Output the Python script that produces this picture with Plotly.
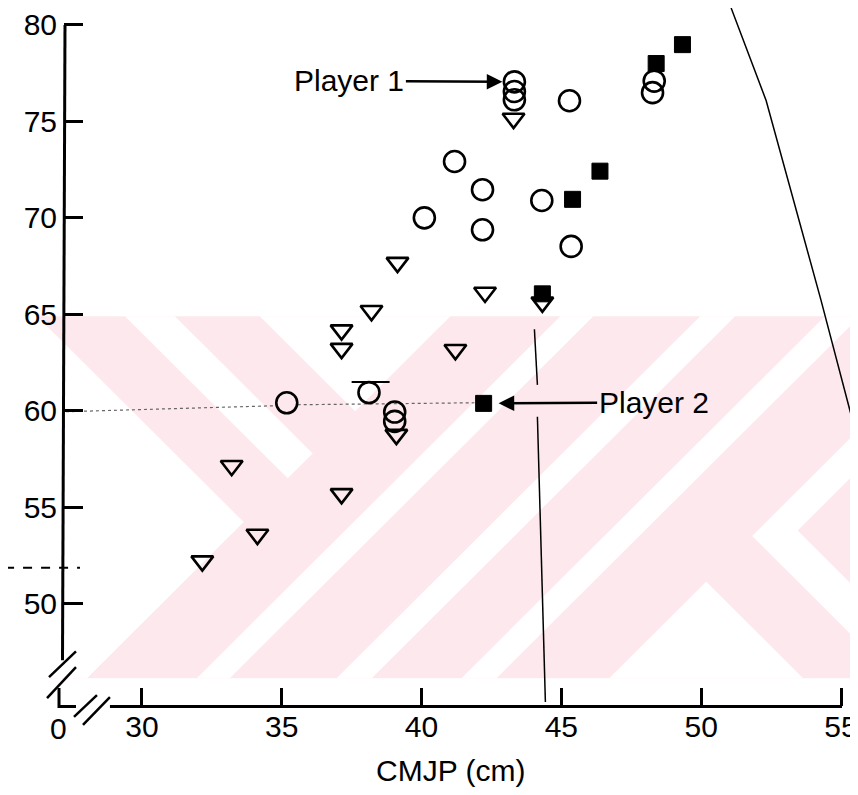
import plotly.graph_objects as go

# ---------------- data ----------------
circle_x = [43.32, 43.32, 43.32, 45.29, 41.18, 42.18, 44.30, 40.10, 42.18, 45.35,
            48.32, 48.26, 35.18, 38.12, 39.04, 39.04]
circle_y = [77.05, 76.55, 76.12, 76.07, 72.92, 71.46, 70.90, 70.00, 69.38, 68.52,
            77.09, 76.49, 60.41, 60.94, 59.93, 59.45]

tri_x = [43.29, 39.14, 42.27, 44.32, 38.21, 37.14, 37.14, 41.21, 39.10, 37.14,
         33.21, 34.13, 32.16]
tri_y = [75.15, 67.68, 66.13, 65.62, 65.18, 64.18, 63.22, 63.16, 58.76, 55.69,
         57.15, 53.58, 52.20]

sq_x = [49.33, 48.39, 46.38, 45.40, 44.32, 42.22]
sq_y = [78.98, 78.00, 72.42, 70.96, 66.06, 60.38]

x_ticks = [30, 35, 40, 45, 50, 55]
y_ticks = [50, 55, 60, 65, 70, 75, 80]
x_title = "CMJP (cm)"
players = ["Player 1", "Player 2"]

# ---------------- layout geometry (page pixels; body margin is 8px) ----------------
OFF = 8
PAGE_W, PAGE_H = 858, 795
W, H = PAGE_W - OFF, PAGE_H - OFF
PLOT_L, PLOT_T, PLOT_B = 64, 15, 706          # page pixels
ML, MT = PLOT_L - OFF, PLOT_T - OFF
MB = PAGE_H - PLOT_B
MR = 0
PW, PH = W - ML - MR, H - MT - MB
XPX, YPX = 28.0, 19.4          # pixels per unit
x0 = 30 - (142 - PLOT_L) / XPX
x1 = x0 + PW / XPX
y1 = 80 + (21 - PLOT_T) / YPX
y0 = y1 - PH / YPX

def px(x):
    return (x - PLOT_L) / PW

def py(y):
    return (PLOT_B - y) / PH

def path(pts, close=True):
    s = "M " + " L ".join(f"{px(a):.5f},{py(b):.5f}" for a, b in pts)
    return s + (" Z" if close else "")

FONT = "Liberation Sans, Arial, Helvetica, sans-serif"
FS = 30
PINK = "rgb(253,233,237)"

shapes = []
# watermark band
shapes.append(dict(type="path", xref="paper", yref="paper", layer="below",
                   path=path([(40, 314), (858, 314), (858, 678), (40, 678)]),
                   fillcolor=PINK, line=dict(width=0)))
white_polys = [
    [(40, 317), (244, 521), (87, 678), (40, 678)],
    [(125, 314), (175, 314), (313, 452), (288, 477)],
    [(260, 314), (451, 314), (355.5, 409.5)],
    [(561, 314), (594, 314), (230, 678), (197, 678)],
    [(701, 314), (736, 314), (372, 678), (337, 678)],
    [(826, 314), (858, 314), (858, 317), (497, 678), (462, 678)],
    [(707, 581), (610, 678), (804, 678)],
    [(858, 430), (753, 535), (858, 640), (858, 589), (798.5, 529.5), (858, 470)],
]
for poly in white_polys:
    shapes.append(dict(type="path", xref="paper", yref="paper", layer="below",
                       path=path(poly), fillcolor="white", line=dict(width=0)))

def seg(pts, width=3, color="black", dash="solid", layer="above"):
    shapes.append(dict(type="path", xref="paper", yref="paper", layer=layer,
                       path=path(pts, close=False),
                       line=dict(color=color, width=width, dash=dash)))

# axes with breaks
seg([(65, 21), (62.5, 660)], 3)
seg([(49, 677), (76, 651)], 2.5)
seg([(47, 698), (76, 667)], 2.5)
seg([(59, 688), (59, 706.5), (76, 706.5)], 3)
seg([(74, 717), (97, 695)], 2.5)
seg([(83, 725), (110, 697)], 2.5)
seg([(110, 706.5), (843, 706.5)], 3)

# scan artefacts
seg([(66, 410), (275, 404)], 1.2, "#666", "dot", "below")
seg([(298, 403), (475, 401)], 1.2, "#666", "dot", "below")
seg([(535, 327), (538, 383)], 1.5, "black", "solid", "below")
seg([(538, 415), (546, 702)], 1.5, "black", "solid", "below")
seg([(732, 4), (767, 97), (822, 298), (857, 432)], 1.5, "black", "solid", "below")
seg([(5, 567), (80, 567)], 2, "black", "dash", "below")
seg([(352, 380), (390, 380)], 2, "black", "solid", "below")

fig = go.Figure()
fig.add_trace(go.Scatter(x=circle_x, y=circle_y, mode="markers", cliponaxis=False,
                         marker=dict(symbol="circle-open", size=21, color="black",
                                     line=dict(width=2.6, color="black"))))
fig.add_trace(go.Scatter(x=tri_x, y=tri_y, mode="markers", cliponaxis=False,
                         marker=dict(symbol="triangle-down-open", size=19, color="black",
                                     line=dict(width=2.6, color="black"))))
fig.add_trace(go.Scatter(x=sq_x, y=sq_y, mode="markers", cliponaxis=False,
                         marker=dict(symbol="square", size=16, color="black",
                                     line=dict(width=1, color="black"))))

annotations = [
    dict(x=circle_x[0], y=circle_y[0], text=players[0], showarrow=True,
         ax=-165, ay=-1, standoff=12, arrowhead=2, arrowsize=1.3, arrowwidth=2.4,
         arrowcolor="black", font=dict(family=FONT, size=FS, color="black")),
    dict(x=sq_x[5], y=sq_y[5], text=players[1], showarrow=True,
         ax=170, ay=-1, standoff=15, arrowhead=2, arrowsize=1.3, arrowwidth=2.4,
         arrowcolor="black", font=dict(family=FONT, size=FS, color="black")),
    dict(x=px(58), y=py(729), xref="paper", yref="paper", text="0", showarrow=False,
         xanchor="center", yanchor="middle", font=dict(family=FONT, size=FS, color="black")),
    dict(x=px(451), y=py(771), xref="paper", yref="paper", text=x_title, showarrow=False,
         xanchor="center", yanchor="middle", font=dict(family=FONT, size=FS, color="black")),
]

fig.update_layout(
    width=W, height=H, margin=dict(l=ML, r=MR, t=MT, b=MB),
    paper_bgcolor="white", plot_bgcolor="rgba(0,0,0,0)", showlegend=False,
    shapes=shapes, annotations=annotations,
    font=dict(family=FONT, size=FS, color="black"),
)
fig.update_xaxes(range=[x0, x1], tickvals=x_ticks, ticktext=[str(v) for v in x_ticks],
                 ticks="inside", ticklen=18, tickwidth=2.5, tickcolor="black",
                 showgrid=False, zeroline=False, showline=False, ticklabeloverflow="allow",
                 tickfont=dict(family=FONT, size=FS, color="black"))
fig.update_yaxes(range=[y0, y1], tickvals=y_ticks, ticktext=[str(v) for v in y_ticks],
                 ticks="inside", ticklen=19, tickwidth=2.5, tickcolor="black",
                 showgrid=False, zeroline=False, showline=False, ticklabelstandoff=6,
                 ticklabeloverflow="allow",
                 tickfont=dict(family=FONT, size=FS, color="black"))

fig.write_html("out.html")
